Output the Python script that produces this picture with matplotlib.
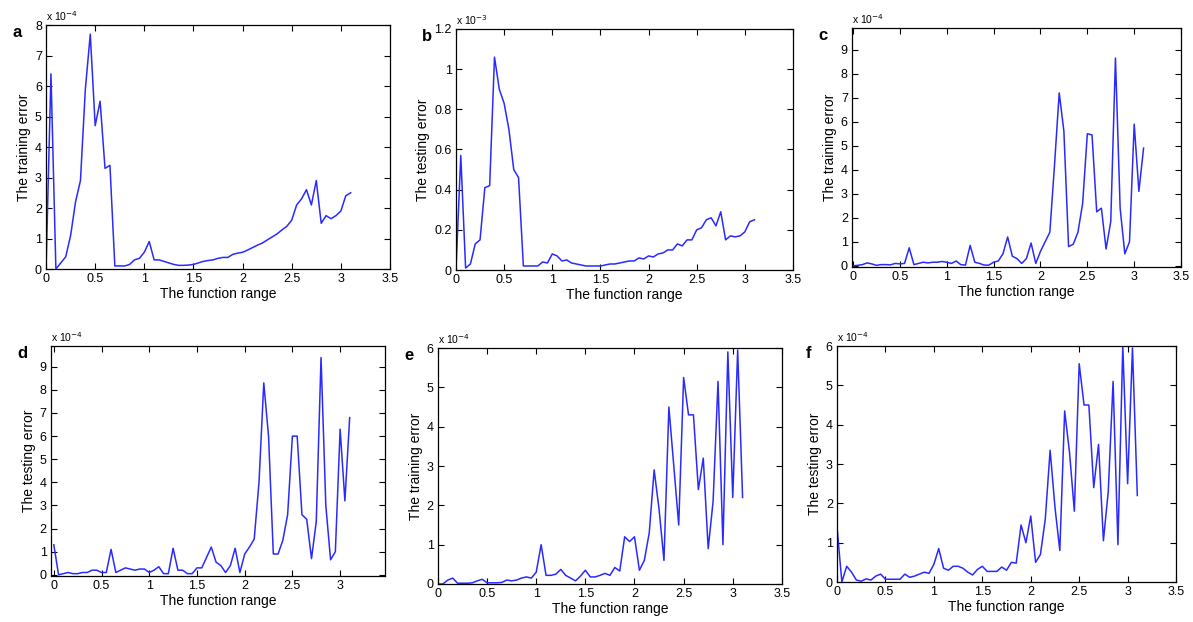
import numpy as np
import matplotlib
matplotlib.use("Agg")
import matplotlib.pyplot as plt

plt.rcParams['font.family'] = ['Liberation Sans', 'DejaVu Sans']

# x grid of the function range (step 0.05, 0 .. 3.1)
x = np.round(np.arange(0, 3.1001, 0.05), 2)

# a: training error (x 1e-4)
err_a = [0.0, 6.4, 0.0, 0.2, 0.4, 1.1, 2.2, 2.9, 5.9, 7.7,
         4.7, 5.5, 3.3, 3.4, 0.1, 0.1, 0.1, 0.15, 0.3, 0.35,
         0.55, 0.9, 0.3, 0.3, 0.25, 0.2, 0.15, 0.12, 0.12, 0.13,
         0.15, 0.2, 0.25, 0.28, 0.3, 0.35, 0.38, 0.38, 0.48, 0.52,
         0.55, 0.62, 0.7, 0.78, 0.85, 0.95, 1.05, 1.15, 1.28, 1.4,
         1.6, 2.1, 2.3, 2.6, 2.1, 2.9, 1.5, 1.75, 1.65, 1.75,
         1.9, 2.4, 2.5]

# b: testing error (x 1e-3)
err_b = [0.0, 0.57, 0.01, 0.03, 0.13, 0.15, 0.41, 0.42, 1.06, 0.9,
         0.83, 0.7, 0.5, 0.46, 0.02, 0.02, 0.02, 0.02, 0.04, 0.035,
         0.08, 0.07, 0.045, 0.05, 0.035, 0.03, 0.025, 0.02, 0.02, 0.02,
         0.02, 0.025, 0.03, 0.03, 0.035, 0.04, 0.045, 0.045, 0.06, 0.055,
         0.07, 0.065, 0.08, 0.085, 0.1, 0.1, 0.13, 0.12, 0.15, 0.15,
         0.2, 0.21, 0.25, 0.26, 0.22, 0.29, 0.15, 0.17, 0.165, 0.17,
         0.19, 0.24, 0.25]

# c: training error (x 1e-4)
err_c = [0.0, 0.02, 0.05, 0.12, 0.08, 0.02, 0.05, 0.05, 0.04, 0.1,
         0.08, 0.1, 0.75, 0.05, 0.1, 0.15, 0.12, 0.15, 0.15, 0.18,
         0.15, 0.1, 0.2, 0.05, 0.03, 0.85, 0.15, 0.1, 0.03, 0.03,
         0.15, 0.2, 0.5, 1.2, 0.4, 0.3, 0.1, 0.3, 0.95, 0.1,
         0.6, 1.0, 1.4, 4.2, 7.2, 5.6, 0.8, 0.9, 1.4, 2.6,
         5.5, 5.45, 2.25, 2.4, 0.7, 1.85, 8.65, 2.4, 0.5, 1.0,
         5.9, 3.1, 4.9]

# d: testing error (x 1e-4)
err_d = [1.3, 0.0, 0.05, 0.1, 0.05, 0.05, 0.1, 0.1, 0.2, 0.2,
         0.1, 0.1, 1.1, 0.1, 0.2, 0.3, 0.25, 0.2, 0.25, 0.25,
         0.1, 0.2, 0.35, 0.05, 0.05, 1.15, 0.2, 0.2, 0.05, 0.05,
         0.3, 0.3, 0.75, 1.2, 0.55, 0.4, 0.1, 0.4, 1.15, 0.1,
         0.9, 1.2, 1.55, 4.0, 8.3, 6.0, 0.9, 0.9, 1.5, 2.6,
         6.0, 6.0, 2.6, 2.4, 0.7, 2.3, 9.4, 3.0, 0.65, 1.0,
         6.3, 3.2, 6.8]

# e: training error (x 1e-4)
err_e = [0.0, 0.0, 0.1, 0.15, 0.02, 0.02, 0.02, 0.03, 0.08, 0.12,
         0.03, 0.03, 0.03, 0.04, 0.1, 0.08, 0.1, 0.15, 0.18, 0.15,
         0.3, 1.0, 0.22, 0.22, 0.25, 0.37, 0.22, 0.15, 0.08, 0.2,
         0.35, 0.18, 0.18, 0.22, 0.27, 0.22, 0.42, 0.33, 1.2, 1.08,
         1.2, 0.35, 0.6, 1.3, 2.9, 1.9, 0.6, 4.5, 3.0, 1.5,
         5.25, 4.3, 4.3, 2.4, 3.2, 0.9, 2.1, 5.15, 1.0, 5.9,
         2.2, 5.95, 2.2]

# f: testing error (x 1e-4)
err_f = [1.4, 0.0, 0.4, 0.25, 0.05, 0.02, 0.08, 0.05, 0.15, 0.2,
         0.07, 0.07, 0.07, 0.07, 0.2, 0.12, 0.15, 0.2, 0.25, 0.22,
         0.45, 0.85, 0.35, 0.3, 0.4, 0.4, 0.35, 0.25, 0.18, 0.32,
         0.4, 0.27, 0.27, 0.27, 0.38, 0.3, 0.5, 0.48, 1.45, 1.0,
         1.68, 0.5, 0.7, 1.6, 3.35, 1.9, 0.8, 4.35, 3.3, 1.8,
         5.55, 4.5, 4.5, 2.4, 3.5, 1.05, 2.3, 5.1, 0.95, 6.0,
         2.5, 5.95, 2.2]

panels = [
    # label, data, ylabel, exponent, ylim, yticks, xlim, rect
    ("a", err_a, "The training error", "-4", (0, 8), np.arange(0, 9, 1),
     (0, 3.5), [0.0386, 0.5675, 0.2883, 0.3923]),
    ("b", err_b, "The testing error", "-3", (0, 1.2), np.arange(0, 1.21, 0.2),
     (0, 3.5), [0.3822, 0.5659, 0.2825, 0.3875]),
    ("c", err_c, "The training error", "-4", (-0.05, 9.9), np.arange(0, 10, 1),
     (-0.01, 3.5), [0.7142, 0.5707, 0.2758, 0.3842]),
    ("d", err_d, "The testing error", "-4", (-0.05, 9.9), np.arange(0, 10, 1),
     (-0.03, 3.47), [0.0427, 0.0740, 0.2800, 0.3698]),
    ("e", err_e, "The training error", "-4", (0, 6), np.arange(0, 7, 1),
     (0, 3.5), [0.3671, 0.0611, 0.2883, 0.3794]),
    ("f", err_f, "The testing error", "-4", (0, 6), np.arange(0, 7, 1),
     (0, 3.5), [0.7016, 0.0643, 0.2842, 0.3794]),
]

fig = plt.figure(figsize=(11.93, 6.22), dpi=100)

for lab, y, ylab, expo, ylim, yt, xlim, rect in panels:
    ax = fig.add_axes(rect)
    ax.plot(x, y, color="#2a2aff", lw=1.1)
    ax.set_xlim(xlim)
    ax.set_ylim(ylim)
    ax.set_xticks([t for t in np.arange(0, 3.51, 0.5) if xlim[0] <= t <= xlim[1]])
    ax.set_xticklabels(["%g" % t for t in ax.get_xticks()])
    ax.set_yticks(yt)
    ax.set_yticklabels(["%g" % t for t in yt])
    ax.tick_params(direction="in", top=True, right=True, length=4,
                   width=0.8, labelsize=9, pad=3)
    for s in ax.spines.values():
        s.set_linewidth(0.9)
    ax.set_xlabel("The function range", fontsize=10, labelpad=1)
    ax.set_ylabel(ylab, fontsize=10, labelpad=3)
    ax.text(0.0, 1.01, r"x 10$^{%s}$" % expo, transform=ax.transAxes,
            fontsize=7.5, ha="left", va="bottom")
    # panel letter
    fig.text(rect[0] - 0.024, rect[1] + rect[3] - 0.012, lab,
             fontsize=12, fontweight="bold", ha="center", va="center")

fig.savefig("out.png", dpi=100)
